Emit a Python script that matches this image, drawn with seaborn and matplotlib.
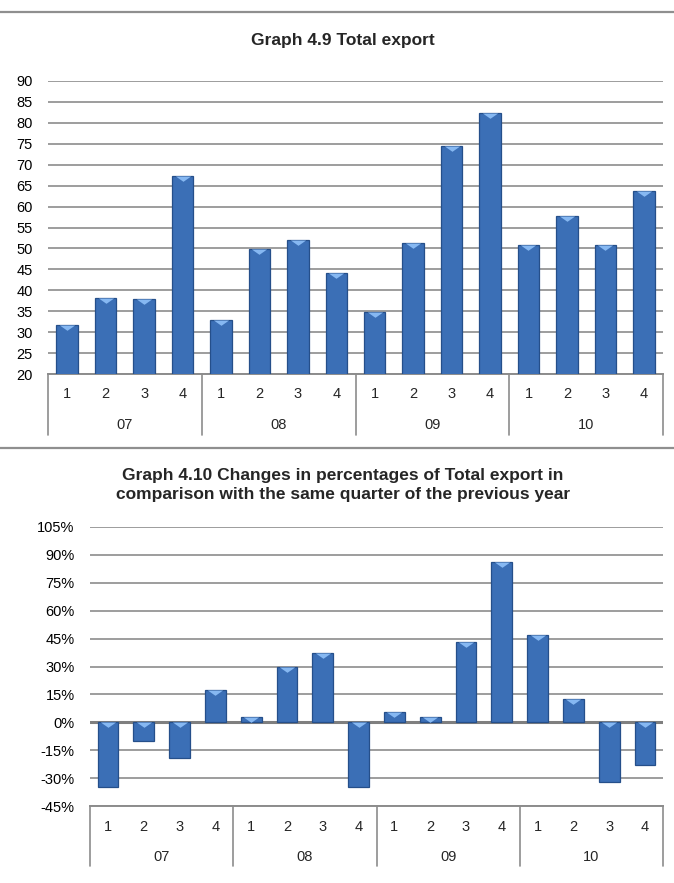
import numpy as np
import pandas as pd
import matplotlib
matplotlib.use("Agg")
import matplotlib.pyplot as plt
import matplotlib.transforms as mtransforms
from matplotlib.lines import Line2D
from matplotlib.path import Path
import seaborn as sns

# Data
years = ["07", "08", "09", "10"]
quarters = ["1", "2", "3", "4"]
total_export = [31.7, 38.2, 37.9, 67.4,
                32.9, 49.8, 52.1, 44.2,
                34.7, 51.4, 74.5, 82.3,
                50.9, 57.8, 50.8, 63.7]
pct_change = [-34.7, -10.2, -19.3, 17.4,
              3.1, 29.6, 37.2, -34.7,
              5.4, 3.1, 43.1, 86.4,
              47.0, 12.6, -32.2, -22.9]

sns.set_theme(style="white")
plt.rcParams['font.family'] = ['Liberation Sans', 'DejaVu Sans']

BAR = "#3b6fb6"
EDGE = "#254f8a"
HILITE = "#86b8f2"
GRID = "#8c8c8c"

keys = [f"{y}-{q}" for y in years for q in quarters]
df_top = pd.DataFrame({"key": keys, "value": total_export})
df_bot = pd.DataFrame({"key": keys, "value": pct_change})

bevel = Path([(-1, 0), (1, 0), (0, -0.7), (-1, 0)],
             [Path.MOVETO, Path.LINETO, Path.LINETO, Path.CLOSEPOLY])

W, H = 674, 883
fig = plt.figure(figsize=(W / 100, H / 100), dpi=100)


def make_axes(left, right, top, bottom):
    return fig.add_axes([left / W, 1 - bottom / H, (right - left) / W, (bottom - top) / H])


def draw_chart(ax, df, ylim, yticks, fmt, zero_line, h_px, q_off, y_off, sep_off, width):
    sns.barplot(data=df, x="key", y="value", order=keys, color=BAR, saturation=1,
                width=width, edgecolor=EDGE, linewidth=0.9, ax=ax, zorder=3)
    tops = np.maximum(df["value"].values, 0)
    ax.scatter(np.arange(len(keys)), tops, marker=bevel, s=120, color=HILITE,
               linewidths=0, zorder=4)
    ax.set_xlim(-0.5, len(keys) - 0.5)
    ax.set_ylim(*ylim)
    ax.set_yticks(yticks)
    ax.set_yticklabels([fmt(v) for v in yticks])
    for v in yticks:
        ax.axhline(v, color=GRID, lw=1.2, zorder=1)
    if zero_line is not None:
        ax.axhline(zero_line, color="#7f7f7f", lw=2.2, zorder=2)
    for s in ["top", "right", "left"]:
        ax.spines[s].set_visible(False)
    ax.spines["bottom"].set_color("#8c8c8c")
    ax.spines["bottom"].set_linewidth(1.4)
    ax.set_xticks([])
    ax.set_xlabel("")
    ax.set_ylabel("")
    ax.tick_params(axis="y", length=0, pad=11, labelsize=10.5, colors="black")

    trans = mtransforms.blended_transform_factory(ax.transData, ax.transAxes)
    for i, k in enumerate(keys):
        ax.text(i, -q_off / h_px, k.split("-")[1], transform=trans,
                ha="center", va="center", fontsize=10.5)
    for j, y in enumerate(years):
        ax.text(j * 4 + 1.5, -y_off / h_px, y, transform=trans,
                ha="center", va="center", fontsize=10.5)
    for b in np.arange(-0.5, len(keys), 4):
        ax.add_line(Line2D([b, b], [0, -sep_off / h_px], transform=trans,
                           color="#8c8c8c", lw=1.2, clip_on=False))


# Graph 4.9
ax1 = make_axes(48, 663, 81, 374)
draw_chart(ax1, df_top, (20, 90), list(range(20, 95, 5)), lambda v: f"{v}",
           None, 293, 20, 51, 61, 0.56)
fig.text(0.509, 1 - 41 / H, "Graph 4.9 Total export", ha="center", va="center",
         fontsize=12.5, fontweight="bold")

# Graph 4.10
ax2 = make_axes(90, 663, 527, 806)
draw_chart(ax2, df_bot, (-45, 105), list(range(-45, 106, 15)), lambda v: f"{v}%",
           0, 279, 21, 51, 60, 0.58)
fig.text(0.509, 1 - 485 / H,
         "Graph 4.10 Changes in percentages of Total export in\n"
         "comparison with the same quarter of the previous year",
         ha="center", va="center", fontsize=12.5, fontweight="bold", linespacing=1.3)

# separator rules between the panels
for yy in [12, 448]:
    fig.add_artist(Line2D([0, 1], [1 - yy / H, 1 - yy / H], transform=fig.transFigure,
                          color="#8f8f8f", lw=1.6))

plt.savefig("out.png", dpi=100)
plt.close()
